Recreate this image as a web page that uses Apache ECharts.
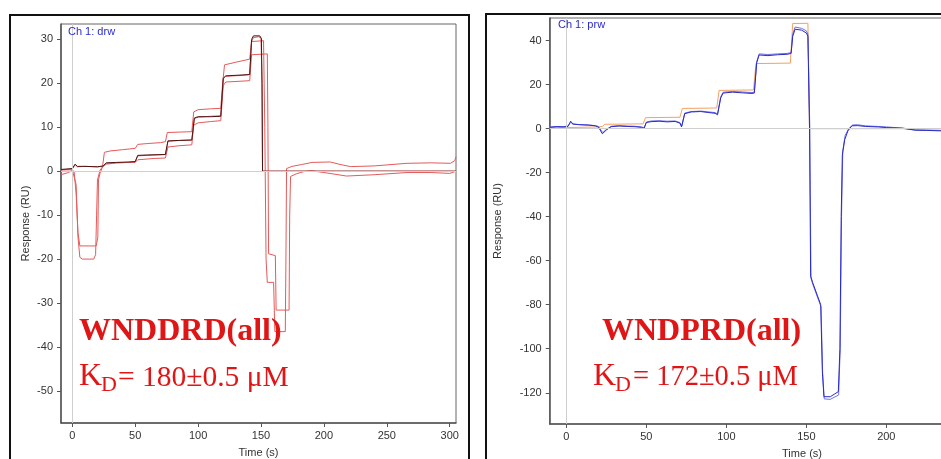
<!DOCTYPE html>
<html>
<head>
<meta charset="utf-8">
<script src="https://cdn.jsdelivr.net/npm/echarts@6/dist/echarts.min.js"></script>
<style>
html,body{margin:0;padding:0;background:#fff;}
#chart{width:941px;height:459px;}
</style>
</head>
<body>
<div id="chart"></div>
<script>
// ---------- tick labels ----------
var leftXTicks = [0, 50, 100, 150, 200, 250, 300];
var leftYTicks = [-50, -40, -30, -20, -10, 0, 10, 20, 30];
var rightXTicks = [0, 50, 100, 150, 200, 250, 300];
var rightYTicks = [-120, -100, -80, -60, -40, -20, 0, 20, 40];

// ---------- left panel (Ch 1: drw), [time s, response RU] ----------
var drwRedA = [[-9,0.3],[0,0.3],[1.5,0.1],[3,-3],[4.5,-15],[6,-19.6],[8,-20],[17,-20],[18.5,-19],[19.3,-10],[20,-2],[22,0.2],[24,1.0],[25.5,4.3],[30,4.6],[40,4.9],[50,5.2],[52,6.1],[60,6.3],[70,6.5],[74,6.7],[75.5,8.8],[85,8.9],[95,9.0],[96.5,13.5],[100,14.0],[110,14.2],[118,14.3],[119.5,20],[121,24.2],[130,24.8],[141,25.5],[142.5,29.5],[152,29.7],[153,10],[154,-20],[155,-25.3],[160,-25.3],[161,-36.5],[169.3,-36.5],[169.8,-20],[170.3,0.6],[174.6,1.1],[182,1.5],[190.6,2.0],[205,2.1],[212,1.6],[221,1.05],[240,1.2],[266,1.8],[285,1.9],[300.7,1.8],[304,2.4],[305,3.3]];
var drwRedC = [[-9,-0.8],[-3,-0.3],[-0.5,0.1],[1.4,0],[3,-5],[4.5,-14],[6,-17],[19,-17],[20.3,-15],[20.8,-2],[22,-0.5],[24,1.0],[27,1.6],[35,1.9],[45,2.0],[50,2.0],[52,2.6],[65,2.9],[74,3.0],[76,5.5],[85,5.8],[95,6.0],[96.5,10.5],[100,11.0],[110,11.3],[118,11.5],[120,19.5],[122,20.3],[135,20.5],[141,20.6],[142.5,26.5],[155,26.7],[155.5,10],[156,-18.8],[161.4,-19.2],[162,-31.6],[172.3,-31.6],[172.8,-10],[173.5,-1.2],[178,-0.6],[184,-0.1],[190,0.1],[200,-0.3],[218,-1.1],[240,-0.8],[266,-0.3],[285,-0.3],[300,-0.5],[305,0]];
var drwRedB = [[-9,0.3],[0,0.5],[2.2,1.5],[4,1.0],[10,1.1],[20,1.0],[24.5,1.1],[27,1.8],[35,1.9],[45,2.0],[50,2.1],[52,3.5],[60,3.6],[74,3.8],[76,6.8],[85,7.0],[95,7.1],[97,12.0],[100,12.3],[110,12.5],[118,12.6],[120,21.0],[122,21.6],[135,21.8],[141,22.0],[142.5,29.5],[144,30.4],[148,30.6],[150,30.3],[150.8,20],[151.2,0],[305,0]];
var drwFitK = [[-9,0.4],[0,0.6],[2.2,1.6],[4,1.1],[10,1.1],[20,1.0],[24.5,1.2],[27,1.9],[35,2.0],[45,2.1],[50,2.2],[52,3.6],[60,3.7],[74,3.8],[76,6.9],[85,7.0],[95,7.1],[97,12.1],[100,12.4],[110,12.4],[118,12.5],[120,21.2],[122,21.7],[135,21.9],[141,22.0],[142.5,30.0],[144,30.8],[149,30.8],[150.3,30.2],[150.8,20],[151.2,0],[305,0]];

// ---------- right panel (Ch 1: prw) ----------
var prwFit = [[-10.4,0.5],[0,0.5],[20,0.8],[22.5,1.0],[24,2.0],[48,2.2],[49.5,5.0],[71,5.2],[72.5,9.2],[94,9.4],[95.5,17.4],[117,17.6],[118.5,29.6],[140,29.8],[141.5,47.8],[151,47.9],[152,0],[305,0]];
var prwBlue1 = [[-10.4,0.6],[-6,0.9],[-2,0.8],[1,1.0],[2.7,3.4],[4,2.2],[8,1.8],[14,1.6],[18,1.3],[20,0.8],[22.5,-2.3],[25,-0.6],[28,0.9],[33,1.2],[38,1.0],[43,0.9],[47,0.6],[48.5,0.1],[50,2.8],[53,3.2],[58,3.4],[63,3.1],[68,3.3],[71,2.5],[72,0.8],[74,6.8],[78,7.6],[84,7.8],[88,7.4],[93,7.0],[94.5,6.3],[96.5,14],[98,16.2],[104,16.6],[110,16.3],[116,16.0],[117.5,16.2],[119,30],[120.5,33.5],[126,33.2],[132,33.6],[138,33.8],[140.5,34.2],[141.5,42],[143,45.2],[147,44.8],[150,43.5],[151,42],[152,0],[152.7,-67],[154,-70],[157,-76],[159,-80],[160,-110],[161,-121.8],[165,-121.8],[170,-119.5],[171,-100],[171.8,-40],[172.5,-12],[174,-5],[176,-1],[178.5,1.3],[182,1.4],[187,1.0],[195,0.8],[200,0.5],[210,0.2],[218,-0.7],[225,-0.8],[235,-1.0],[305,-1.0]];
var prwBlue2 = [[-10.4,0.8],[-6,1.0],[-2,0.9],[1,1.2],[2.9,3.0],[4,2.0],[8,1.9],[14,1.7],[18,1.4],[20,1.0],[22.8,-1.8],[25,-0.3],[28,1.1],[33,1.4],[38,1.2],[43,1.1],[47,0.8],[48.7,0.4],[50,3.0],[53,3.5],[58,3.6],[63,3.4],[68,3.5],[71,2.8],[72.2,1.2],[74,7.1],[78,7.8],[84,8.0],[88,7.7],[93,7.3],[94.5,6.7],[96.5,14.5],[98,16.6],[104,16.9],[110,16.7],[116,16.4],[117.5,16.6],[119,30.5],[120.5,34.0],[126,33.7],[132,34.0],[138,34.2],[140.5,34.6],[141.5,43],[143,46.2],[147,45.6],[150,44.5],[151,43],[152.2,0],[152.9,-68],[154.2,-71],[157.2,-77],[159.2,-81],[160.2,-111],[161.2,-122.8],[165,-123],[170.2,-121],[171.2,-100],[172,-40],[172.8,-10],[174.3,-3],[176.5,0],[179,1.7],[182,1.8],[187,1.3],[195,1.0],[200,0.8],[210,0.3],[218,-0.5],[225,-0.6],[235,-0.8],[305,-0.8]];

var chart = echarts.init(document.getElementById('chart'), null, {renderer: 'canvas'});

var labelFont = {fontFamily: 'Liberation Sans, Arial, sans-serif', fontSize: 11, color: '#333'};

function mkX(gi, min, max, ticks) {
  return {
    type: 'value', gridIndex: gi, min: min, max: max,
    name: 'Time (s)', nameLocation: 'middle', nameGap: 24,
    nameTextStyle: labelFont,
    axisLine: {show: true, onZero: false, lineStyle: {color: '#555', width: 1.5}},
    axisTick: {show: true, inside: false, length: 4, customValues: ticks, lineStyle: {color: '#555'}},
    axisLabel: Object.assign({customValues: ticks, margin: 7}, labelFont),
    splitLine: {show: false}
  };
}
function mkY(gi, min, max, ticks, gap) {
  return {
    type: 'value', gridIndex: gi, min: min, max: max,
    name: 'Response (RU)', nameLocation: 'middle', nameGap: gap, nameRotate: 90,
    nameTextStyle: labelFont,
    axisLine: {show: true, onZero: false, lineStyle: {color: '#555', width: 1.5}},
    axisTick: {show: true, inside: false, length: 4, customValues: ticks, lineStyle: {color: '#555'}},
    axisLabel: Object.assign({customValues: ticks, margin: 8}, labelFont),
    splitLine: {show: false}
  };
}
function line(data, color, gi, z, w) {
  return {
    type: 'line', data: data, xAxisIndex: gi, yAxisIndex: gi,
    showSymbol: false, symbol: 'none', z: z, silent: true,
    lineStyle: {color: color, width: w || 1}, clip: true
  };
}
function refLines(gi) {
  return {
    type: 'line', data: [], xAxisIndex: gi, yAxisIndex: gi, z: 1, silent: true,
    markLine: {
      silent: true, symbol: ['none', 'none'], animation: false,
      label: {show: false},
      lineStyle: {color: '#cfcfcf', width: 1, type: 'solid'},
      data: [{yAxis: 0}, {xAxis: 0}]
    }
  };
}

var red = '#e65a5a';
var txtRed = '#e01515';
var option = {
  animation: false,
  backgroundColor: '#ffffff',
  grid: [
    {left: 61, top: 24, width: 395, height: 399, show: true, borderColor: '#666', borderWidth: 1, backgroundColor: '#fff', containLabel: false, outerBoundsMode: 'none'},
    {left: 549.7, top: 18, width: 504.6, height: 406, show: true, borderColor: '#666', borderWidth: 1, backgroundColor: '#fff', containLabel: false, outerBoundsMode: 'none'}
  ],
  xAxis: [mkX(0, -9, 305, leftXTicks), mkX(1, -10.4, 305, rightXTicks)],
  yAxis: [mkY(0, -57.3, 33.5, leftYTicks, 30), mkY(1, -134.2, 50.3, rightYTicks, 46)],
  series: [
    refLines(0),
    line(drwRedA, red, 0, 2),
    line(drwRedC, red, 0, 2),
    line(drwRedB, red, 0, 2),
    line(drwFitK, '#4a1414', 0, 3),
    refLines(1),
    line(prwFit, '#f4a060', 1, 2),
    line(prwBlue2, '#7070e8', 1, 3),
    line(prwBlue1, '#2a2ac8', 1, 4)
  ],
  graphic: [
    {type: 'rect', z: 100, shape: {x: 10, y: 15, width: 459, height: 470}, style: {fill: 'none', stroke: '#111', lineWidth: 2}},
    {type: 'rect', z: 100, shape: {x: 486, y: 14, width: 480, height: 470}, style: {fill: 'none', stroke: '#111', lineWidth: 2}},
    {type: 'text', z: 100, x: 68, y: 26, style: {text: 'Ch 1: drw', fill: '#2a2ad0', font: '11px "Liberation Sans", Arial, sans-serif'}},
    {type: 'text', z: 100, x: 558, y: 19, style: {text: 'Ch 1: prw', fill: '#2a2ad0', font: '11px "Liberation Sans", Arial, sans-serif'}},
    // left annotations
    {type: 'text', z: 100, x: 79, y: 332, style: {text: 'WNDDRD(all)', fill: txtRed, font: 'bold 32px "Liberation Serif", serif', verticalAlign: 'middle'}},
    {type: 'text', z: 100, x: 79, y: 377, style: {text: 'K', fill: txtRed, font: '32px "Liberation Serif", serif', verticalAlign: 'middle'}},
    {type: 'text', z: 100, x: 101, y: 385, style: {text: 'D', fill: txtRed, font: '22px "Liberation Serif", serif', verticalAlign: 'middle'}},
    {type: 'text', z: 100, x: 118, y: 378, style: {text: '= 180±0.5 μM', fill: txtRed, font: '29.5px "Liberation Serif", serif', verticalAlign: 'middle'}},
    // right annotations
    {type: 'text', z: 100, x: 602, y: 332, style: {text: 'WNDPRD(all)', fill: txtRed, font: 'bold 32px "Liberation Serif", serif', verticalAlign: 'middle'}},
    {type: 'text', z: 100, x: 593, y: 377, style: {text: 'K', fill: txtRed, font: '32px "Liberation Serif", serif', verticalAlign: 'middle'}},
    {type: 'text', z: 100, x: 615, y: 385, style: {text: 'D', fill: txtRed, font: '22px "Liberation Serif", serif', verticalAlign: 'middle'}},
    {type: 'text', z: 100, x: 633, y: 378, style: {text: '= 172±0.5 μM', fill: txtRed, font: '28.5px "Liberation Serif", serif', verticalAlign: 'middle'}}
  ]
};
chart.setOption(option);
</script>
</body>
</html>
